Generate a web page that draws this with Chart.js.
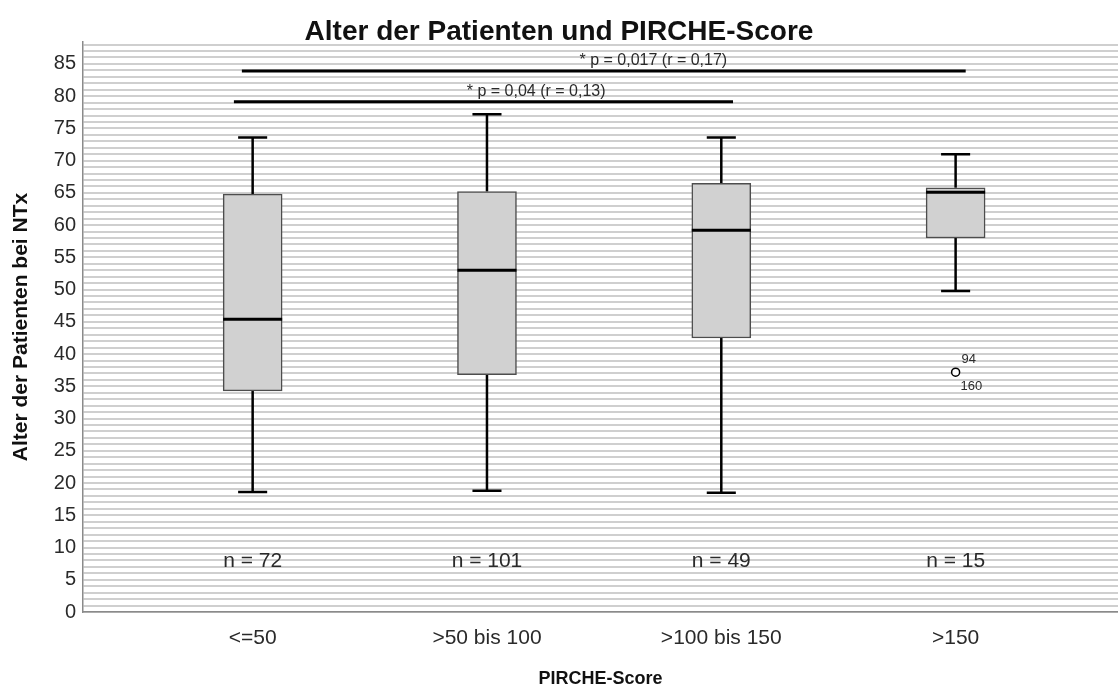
<!DOCTYPE html>
<html>
<head>
<meta charset="utf-8">
<script src="https://cdn.jsdelivr.net/npm/chart.js@4.4.1/dist/chart.umd.min.js"></script>
<style>
  html, body { margin: 0; padding: 0; background: #ffffff; }
  canvas { display: block; }
</style>
</head>
<body>
<canvas id="chart" width="1118" height="688"></canvas>
<script>
// PIRCHE-Score groups and patient age at transplantation (five-number summaries)
const categories   = ['<=50', '>50 bis 100', '>100 bis 150', '>150'];
const whiskerLow   = [18.6, 18.8, 18.5, 49.8];
const quartile1    = [34.3, 36.8, 42.5, 58.0];
const medians      = [45.4, 53.0, 59.2, 65.1];
const quartile3    = [64.8, 65.2, 66.5, 65.8];
const whiskerHigh  = [73.6, 77.2, 73.6, 71.0];
const groupSizes   = [72, 101, 49, 15];

// outliers: group index, age, case numbers
const outlierGroup = [3];
const outlierAge   = [37.2];
const outlierCases = [['94', '160']];

// significance brackets
const sigStart = [-0.08, -0.046];
const sigEnd   = [2.05, 3.043];
const sigAge   = [79.15, 83.9];
const sigLabel = ['* p = 0,04 (r = 0,13)', '* p = 0,017 (r = 0,17)'];
const sigLabelPos = [1.21, 1.71];

// y axis labels (every unit gets a grid stripe, every fifth a label)
const yTickLabels = [0, 5, 10, 15, 20, 25, 30, 35, 40, 45, 50, 55, 60, 65, 70, 75, 80, 85];
const yTop = 88.4;

const FONT = '"Liberation Sans", Arial, sans-serif';
Chart.defaults.font.family = FONT;

const CAP_HALF = 0.062;     // whisker cap half width (x units)
const BOX_HALF = 0.126;     // box half width (x units), used for median bars
const gap = { x: null, y: null };

// whisker stems and caps
const whiskerPts = [];
categories.forEach((c, i) => {
  whiskerPts.push({ x: i, y: whiskerHigh[i] }, { x: i, y: quartile3[i] }, gap);
  whiskerPts.push({ x: i, y: quartile1[i] }, { x: i, y: whiskerLow[i] }, gap);
  whiskerPts.push({ x: i - CAP_HALF, y: whiskerHigh[i] }, { x: i + CAP_HALF, y: whiskerHigh[i] }, gap);
  whiskerPts.push({ x: i - CAP_HALF, y: whiskerLow[i] }, { x: i + CAP_HALF, y: whiskerLow[i] }, gap);
});

// median bars
const medianPts = [];
categories.forEach((c, i) => {
  medianPts.push({ x: i - BOX_HALF, y: medians[i] }, { x: i + BOX_HALF, y: medians[i] }, gap);
});

// significance lines
const sigPts = [];
sigAge.forEach((v, k) => {
  sigPts.push({ x: sigStart[k], y: v }, { x: sigEnd[k], y: v }, gap);
});

// text annotations drawn through the chart scales
const annotations = {
  id: 'annotations',
  afterDatasetsDraw(chart) {
    const { ctx, scales: { x, y } } = chart;
    ctx.save();
    ctx.fillStyle = '#2a2a2a';
    ctx.textAlign = 'center';
    ctx.textBaseline = 'middle';

    ctx.font = '21px ' + FONT;
    groupSizes.forEach((n, i) => {
      ctx.fillText('n = ' + n, x.getPixelForValue(i), y.getPixelForValue(7.9));
    });

    ctx.font = '16px ' + FONT;
    sigLabel.forEach((t, k) => {
      ctx.fillText(t, x.getPixelForValue(sigLabelPos[k]), y.getPixelForValue(sigAge[k]) - 10);
    });

    ctx.font = '13px ' + FONT;
    ctx.textAlign = 'left';
    outlierGroup.forEach((g, k) => {
      const px = x.getPixelForValue(g);
      const py = y.getPixelForValue(outlierAge[k]);
      ctx.fillText(outlierCases[k][0], px + 6, py - 13);
      ctx.fillText(outlierCases[k][1], px + 5, py + 14.5);
    });
    ctx.restore();
  }
};

new Chart(document.getElementById('chart'), {
  type: 'bar',
  data: {
    datasets: [
      {
        type: 'bar',
        data: categories.map((c, i) => ({ x: i, y: [quartile1[i], quartile3[i]] })),
        backgroundColor: '#d1d1d1',
        borderColor: '#4d4d4d',
        borderWidth: 1.5,
        borderSkipped: false,
        barThickness: 59,
        order: 4
      },
      {
        type: 'scatter',
        data: whiskerPts,
        showLine: true,
        spanGaps: false,
        borderColor: '#000000',
        borderWidth: 2.5,
        pointRadius: 0,
        pointHoverRadius: 0,
        order: 5
      },
      {
        type: 'scatter',
        data: medianPts,
        showLine: true,
        spanGaps: false,
        borderColor: '#000000',
        borderWidth: 3,
        pointRadius: 0,
        pointHoverRadius: 0,
        order: 2
      },
      {
        type: 'scatter',
        data: sigPts,
        showLine: true,
        spanGaps: false,
        borderColor: '#000000',
        borderWidth: 3,
        pointRadius: 0,
        pointHoverRadius: 0,
        order: 3
      },
      {
        type: 'scatter',
        data: outlierGroup.map((g, k) => ({ x: g, y: outlierAge[k] })),
        pointStyle: 'circle',
        pointRadius: 4,
        pointBorderWidth: 1.5,
        pointBackgroundColor: '#ffffff',
        pointBorderColor: '#000000',
        order: 1
      }
    ]
  },
  options: {
    responsive: false,
    animation: false,
    events: [],
    devicePixelRatio: 1,
    layout: { autoPadding: false, padding: { left: 0, right: 0, top: 0, bottom: 0 } },
    plugins: {
      legend: { display: false },
      tooltip: { enabled: false },
      title: {
        display: true,
        text: 'Alter der Patienten und PIRCHE-Score',
        color: '#111111',
        font: { size: 28, weight: 'bold', lineHeight: 1.0 },
        padding: { top: 18, bottom: -4 }
      }
    },
    scales: {
      x: {
        type: 'linear',
        offset: false,
        min: -0.724,
        max: 3.693,
        afterBuildTicks: s => { s.ticks = categories.map((c, i) => ({ value: i })); },
        afterFit: s => { s.height = 76; },
        ticks: {
          autoSkip: false,
          maxRotation: 0,
          padding: 14,
          color: '#2a2a2a',
          font: { size: 21 },
          callback: v => categories[v] ?? ''
        },
        grid: { display: false, drawTicks: false, offset: false },
        border: { display: true, color: '#8a8a8a', width: 1.5 },
        title: {
          display: true,
          text: 'PIRCHE-Score',
          color: '#111111',
          font: { size: 18, weight: 'bold', lineHeight: 1.0 },
          padding: { top: 0, bottom: 0 }
        }
      },
      y: {
        type: 'linear',
        min: 0,
        max: yTop,
        afterBuildTicks: s => {
          const t = [];
          for (let v = 0; v <= Math.floor(yTop); v++) t.push({ value: v });
          s.ticks = t;
        },
        afterFit: s => { s.width = 83; },
        ticks: {
          autoSkip: false,
          padding: 7,
          color: '#2a2a2a',
          font: { size: 20 },
          callback: v => yTickLabels.includes(v) ? String(v) : ''
        },
        grid: { color: '#cfcfcf', lineWidth: 2, drawTicks: false },
        border: { display: true, color: '#8a8a8a', width: 1.5 },
        title: {
          display: true,
          text: 'Alter der Patienten bei NTx',
          color: '#111111',
          font: { size: 21, weight: 'bold' },
          padding: { top: 9, bottom: 0 }
        }
      }
    }
  },
  plugins: [annotations]
});
</script>
</body>
</html>
